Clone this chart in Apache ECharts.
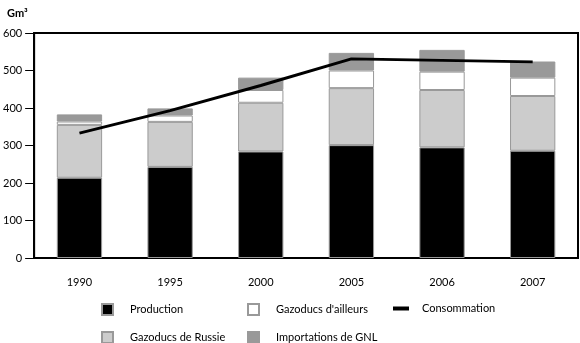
<!DOCTYPE html>
<html>
<head>
<meta charset="utf-8">
<script src="https://cdn.jsdelivr.net/npm/echarts@6/dist/echarts.min.js"></script>
<style>
  html, body { margin: 0; padding: 0; background: #fff; }
  #chart { width: 580px; height: 343px; }
</style>
</head>
<body>
<div id="chart"></div>
<script>
"use strict";

// data (Gm3)
const years = ["1990", "1995", "2000", "2005", "2006", "2007"];
const production = [214, 243, 284, 301, 295, 286];
const russie = [141, 120, 130, 152, 153, 146];
const ailleurs = [9, 17, 34, 47, 49, 49];
const gnl = [19, 19, 33, 47, 58, 43];
const consommation = [333, 393, 460, 531, 527, 523];
const yTicks = { min: 0, max: 600, step: 100 };

const font = "Lato, 'Noto Sans', sans-serif";
const border = "#999999";

function bar(name, values, color) {
    return {
        name: name,
        type: "bar",
        stack: "total",
        barWidth: "50%",
        data: values,
        itemStyle: { color: color, borderColor: border, borderWidth: 1 },
        emphasis: { disabled: true }
    };
}

function legendAt(name, left, top, opts) {
    return Object.assign({
        data: [name],
        left: left,
        top: top,
        padding: 0,
        itemWidth: 11,
        itemHeight: 11,
        icon: "rect",
        selectedMode: false,
        textStyle: { fontFamily: font, fontSize: 11, color: "#000", padding: [0, 0, 0, 12] }
    }, opts || {});
}

let chart = echarts.init(document.getElementById("chart"), null, { renderer: "canvas" });

chart.setOption({
    animation: false,
    backgroundColor: "#fff",
    title: {
        text: "Gm³",
        left: 2,
        top: 3,
        textStyle: { fontFamily: font, fontSize: 11, fontWeight: "bold", color: "#000" }
    },
    grid: {
        left: 34, right: 2, top: 33, bottom: 85,
        show: true, borderColor: "#000", borderWidth: 2, backgroundColor: "transparent"
    },
    legend: [
        legendAt("Production", 101, 303),
        legendAt("Gazoducs d'ailleurs", 247, 303),
        legendAt("Consommation", 393, 303, {
            itemWidth: 16, itemHeight: 4,
            textStyle: { fontFamily: font, fontSize: 11, color: "#000", padding: [0, 0, 0, 8] }
        }),
        legendAt("Gazoducs de Russie", 101, 331),
        legendAt("Importations de GNL", 247, 331)
    ],
    xAxis: {
        type: "category",
        data: years,
        axisLine: { lineStyle: { color: "#000", width: 2 } },
        axisTick: { alignWithLabel: true, length: 9, lineStyle: { color: "#000" } },
        axisLabel: { color: "#000", fontFamily: font, fontSize: 11, margin: 19 }
    },
    yAxis: {
        type: "value",
        min: yTicks.min,
        max: yTicks.max,
        interval: yTicks.step,
        axisLine: { show: true, lineStyle: { color: "#000", width: 2 } },
        axisTick: { show: true, length: 9, lineStyle: { color: "#000" } },
        splitLine: { show: false },
        axisLabel: { color: "#000", fontFamily: font, fontSize: 11, margin: 12 }
    },
    series: [
        bar("Production", production, "#000000"),
        bar("Gazoducs de Russie", russie, "#cccccc"),
        bar("Gazoducs d'ailleurs", ailleurs, "#ffffff"),
        bar("Importations de GNL", gnl, "#999999"),
        {
            name: "Consommation",
            type: "line",
            data: consommation,
            symbol: "none",
            z: 5,
            lineStyle: { color: "#000", width: 3 },
            itemStyle: { color: "#000" },
            emphasis: { disabled: true }
        }
    ]
});
</script>
</body>
</html>
